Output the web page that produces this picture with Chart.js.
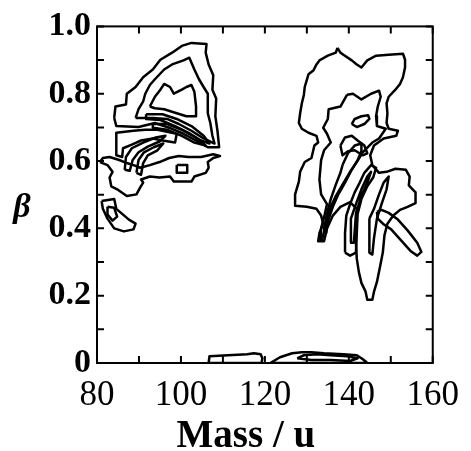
<!DOCTYPE html>
<html>
<head>
<meta charset="utf-8">
<script src="https://cdn.jsdelivr.net/npm/chart.js@4.4.1/dist/chart.umd.min.js"></script>
<style>
  html, body { margin: 0; padding: 0; background: #fff; }
  #wrap { width: 471px; height: 451px; }
</style>
</head>
<body>
<div id="wrap"><canvas id="contour" width="471" height="451"></canvas></div>
<script>
// Axis ticks
const massLabels = [80, 100, 120, 140, 160];
const massMinor = [90, 110, 130, 150];
const betaLabels = [0, 0.2, 0.4, 0.6, 0.8, 1.0];
const betaMinor = [0.1, 0.3, 0.5, 0.7, 0.9];

// Contour lines, [mass (u), beta]
// left group, upper lobe
const leftOuter = [[84.1,0.728],[84.4,0.762],[86.9,0.768],[87.1,0.800],[89.2,0.820],[91.0,0.849],[93.3,0.872],[95.1,0.901],[97.9,0.922],[100.2,0.942],[102.5,0.951],[106.1,0.948],[105.9,0.922],[106.6,0.887],[107.7,0.855],[107.5,0.812],[108.4,0.786],[108.2,0.733],[108.7,0.690],[109.1,0.641],[106.4,0.641],[103.6,0.661],[100.6,0.681],[97.2,0.699],[93.8,0.713],[89.9,0.701],[84.6,0.704]];
const leftSecond = [[89.2,0.728],[89.9,0.754],[91.0,0.777],[91.5,0.800],[92.6,0.826],[93.8,0.843],[96.0,0.872],[97.9,0.887],[100.6,0.899],[102.0,0.907],[103.2,0.872],[104.3,0.843],[105.4,0.820],[106.4,0.800],[106.4,0.742],[107.0,0.713],[107.5,0.675],[108.0,0.652],[105.4,0.667],[102.5,0.690],[99.5,0.710],[96.7,0.725],[93.3,0.728]];
const leftThird = [[92.6,0.762],[93.8,0.791],[95.1,0.812],[96.0,0.829],[97.4,0.820],[98.3,0.800],[100.2,0.812],[101.3,0.820],[102.5,0.826],[103.2,0.806],[103.6,0.762],[103.6,0.733],[101.3,0.733],[99.0,0.742],[96.0,0.754],[93.8,0.757]];
const leftBandA = [[91.7,0.739],[95.6,0.739],[99.0,0.725],[102.5,0.704],[105.4,0.675],[106.8,0.652],[104.8,0.661],[101.8,0.684],[98.6,0.704],[95.1,0.722],[91.7,0.725]];
const leftBandB = [[93.3,0.710],[96.7,0.710],[100.2,0.693],[103.2,0.672],[105.9,0.646],[103.2,0.655],[100.2,0.675],[96.7,0.693],[93.3,0.699]];
// left group, middle
const leftBox = [[84.6,0.684],[84.6,0.617],[86.0,0.612],[86.2,0.638],[88.3,0.649],[90.5,0.661],[93.3,0.667],[95.6,0.661],[98.6,0.655],[99.0,0.681],[96.7,0.687],[94.4,0.693],[91.5,0.693],[88.7,0.690]];
const leftStripA = [[86.6,0.574],[86.9,0.612],[88.3,0.638],[91.0,0.655],[94.0,0.670],[96.3,0.675],[94.9,0.658],[92.1,0.643],[89.9,0.626],[88.5,0.603],[87.8,0.571]];
const leftStripB = [[89.4,0.565],[89.9,0.603],[91.2,0.626],[93.5,0.641],[95.8,0.652],[94.4,0.632],[92.1,0.617],[91.0,0.594],[90.5,0.559]];
const leftLower = [[80.7,0.597],[82.5,0.588],[83.7,0.568],[83.0,0.551],[83.4,0.525],[84.8,0.516],[87.1,0.496],[89.4,0.501],[90.3,0.522],[91.0,0.536],[90.5,0.545],[92.6,0.554],[94.9,0.551],[97.4,0.554],[98.3,0.539],[102.5,0.539],[103.2,0.554],[105.9,0.565],[106.6,0.580],[106.4,0.597],[107.7,0.609],[109.3,0.615],[107.7,0.620],[104.8,0.612],[101.8,0.612],[99.5,0.615],[97.2,0.609],[94.9,0.597],[92.6,0.588],[90.3,0.580],[88.7,0.588],[87.1,0.594],[85.3,0.603],[83.0,0.612],[81.4,0.609]];
const leftSquare = [[99.0,0.588],[101.5,0.588],[101.5,0.565],[99.0,0.565]];
// left group, small blob near 0.45
const blobOuter = [[81.1,0.481],[84.1,0.487],[84.6,0.458],[86.0,0.443],[87.6,0.426],[89.2,0.414],[88.7,0.397],[86.4,0.391],[84.1,0.400],[82.5,0.429],[81.4,0.458]];
const blobInner = [[82.5,0.464],[84.1,0.461],[84.8,0.435],[83.7,0.423],[82.5,0.441]];

// right group
const rightOuter = [[137.3,0.936],[138.0,0.922],[138.7,0.916],[140.7,0.899],[141.9,0.887],[143.0,0.878],[144.4,0.899],[146.5,0.913],[149.5,0.916],[152.9,0.919],[153.4,0.901],[153.4,0.878],[152.9,0.849],[152.2,0.829],[151.1,0.812],[149.5,0.791],[149.0,0.771],[149.2,0.742],[149.0,0.713],[149.5,0.696],[151.7,0.690],[151.3,0.675],[148.3,0.667],[146.0,0.646],[145.1,0.617],[145.6,0.588],[147.2,0.565],[149.0,0.568],[151.1,0.577],[153.6,0.574],[154.5,0.554],[154.3,0.528],[155.9,0.507],[155.9,0.475],[154.0,0.464],[152.2,0.455],[150.6,0.438],[149.2,0.414],[148.5,0.380],[148.1,0.328],[147.4,0.284],[146.7,0.241],[146.0,0.212],[145.6,0.188],[144.4,0.188],[144.0,0.212],[143.0,0.238],[142.4,0.270],[141.9,0.310],[141.7,0.357],[141.7,0.409],[141.9,0.458],[140.3,0.478],[138.0,0.464],[136.2,0.438],[134.8,0.400],[134.1,0.362],[132.7,0.362],[133.0,0.386],[133.9,0.414],[133.4,0.438],[132.3,0.458],[130.0,0.464],[127.2,0.467],[127.2,0.501],[128.1,0.539],[128.4,0.568],[129.5,0.597],[131.1,0.609],[131.8,0.646],[132.7,0.655],[132.3,0.675],[130.4,0.684],[128.8,0.696],[128.1,0.713],[128.4,0.742],[128.8,0.771],[129.3,0.797],[129.5,0.820],[130.0,0.841],[130.4,0.858],[131.6,0.870],[132.3,0.887],[133.0,0.899],[135.0,0.913],[136.9,0.922]];
const rightSecond = [[139.6,0.797],[141.0,0.800],[143.0,0.783],[145.3,0.800],[147.2,0.809],[147.6,0.791],[146.9,0.762],[146.5,0.733],[146.7,0.704],[148.8,0.696],[147.2,0.667],[145.6,0.655],[143.3,0.626],[141.9,0.597],[140.3,0.568],[138.5,0.530],[136.9,0.496],[135.7,0.464],[134.8,0.429],[134.1,0.391],[133.6,0.365],[133.2,0.368],[133.4,0.400],[134.3,0.443],[134.8,0.472],[133.4,0.501],[133.0,0.545],[133.4,0.603],[134.1,0.632],[135.7,0.655],[134.8,0.681],[133.9,0.699],[135.0,0.725],[135.2,0.754],[138.0,0.762]];
const rightPeak = [[140.7,0.710],[141.4,0.725],[143.0,0.733],[144.6,0.736],[144.9,0.725],[143.7,0.710],[141.9,0.701]];
const rightBand = [[138.5,0.588],[139.8,0.623],[141.4,0.646],[143.0,0.652],[143.0,0.629],[142.1,0.603],[140.7,0.574],[139.1,0.536],[137.5,0.501],[136.2,0.464],[135.0,0.420],[134.6,0.386],[134.1,0.400],[134.8,0.443],[135.7,0.487],[136.9,0.530],[138.0,0.565]];
const rightKnot = [[138.0,0.646],[139.1,0.670],[140.7,0.675],[142.1,0.661],[143.7,0.646],[144.4,0.623],[143.3,0.617],[141.4,0.632],[139.8,0.629],[138.5,0.617]];
const rightStem = [[139.1,0.328],[139.1,0.386],[139.4,0.438],[140.3,0.472],[141.4,0.507],[142.6,0.536],[143.7,0.565],[145.3,0.588],[146.5,0.580],[145.8,0.551],[144.4,0.525],[143.0,0.487],[142.1,0.443],[141.9,0.386],[141.7,0.328],[140.3,0.319]];
const rightStemInner = [[140.3,0.357],[140.5,0.429],[141.7,0.472],[143.0,0.516],[144.4,0.554],[145.3,0.568],[144.4,0.536],[143.0,0.496],[141.7,0.443],[141.2,0.357]];
const rightTail = [[144.9,0.429],[146.0,0.458],[147.2,0.501],[148.3,0.536],[149.5,0.554],[149.0,0.516],[147.8,0.472],[146.7,0.429],[146.0,0.371],[145.6,0.322],[144.9,0.328],[144.9,0.386]];
const rightEllipse = [[146.7,0.449],[147.8,0.455],[149.5,0.446],[151.7,0.426],[154.0,0.394],[156.3,0.357],[157.3,0.330],[156.3,0.319],[154.7,0.333],[152.4,0.365],[150.1,0.397],[148.3,0.412],[146.9,0.429]];

// near beta = 0
const baseA = [[106.6,0],[106.8,0.020],[111.2,0.023],[115.8,0.026],[117.4,0.029],[119.0,0.026],[119.4,0.014],[119.2,0]];
const baseB = [[121.3,0],[123.6,0.017],[126.5,0.029],[128.8,0.032],[131.1,0.032],[134.1,0.029],[138.7,0.026],[141.9,0.023],[143.0,0.014],[144.2,0.003],[144.0,0]];
const baseC = [[127.7,0.014],[129.3,0.023],[132.3,0.026],[135.7,0.023],[139.6,0.020],[142.1,0.014],[140.3,0.006],[135.7,0.009],[131.1,0.009]];

const contours = [leftOuter, leftSecond, leftThird, leftBandA, leftBandB, leftBox, leftStripA, leftStripB,
    leftLower, leftSquare, blobOuter, blobInner, rightOuter, rightSecond, rightPeak, rightBand, rightKnot,
    rightStem, rightStemInner, rightTail, rightEllipse, baseA, baseB, baseC];

const serif = "'Liberation Serif', 'DejaVu Serif', serif";

// closed lines: repeat the first point at the end
const datasets = contours.map(c => ({
    data: c.concat([c[0]]).map(p => ({ x: p[0], y: p[1] })),
    showLine: true,
    borderColor: '#000',
    borderWidth: 2.5,
    borderJoinStyle: 'round',
    pointRadius: 0,
    fill: false,
    tension: 0
}));

// inward tick marks on all four sides, frame, beta symbol and the mass title
const framePlugin = {
    id: 'frame',
    afterDraw(chart) {
        const ctx = chart.ctx;
        const a = chart.chartArea;
        const xs = chart.scales.x;
        const ys = chart.scales.y;
        ctx.save();
        ctx.strokeStyle = '#000';
        ctx.lineWidth = 2;
        ctx.strokeRect(a.left, a.top, a.right - a.left, a.bottom - a.top);
        const len = 7;
        massLabels.concat(massMinor).forEach(v => {
            const px = xs.getPixelForValue(v);
            ctx.beginPath();
            ctx.moveTo(px, a.bottom); ctx.lineTo(px, a.bottom - len);
            ctx.moveTo(px, a.top); ctx.lineTo(px, a.top + len);
            ctx.stroke();
        });
        betaLabels.concat(betaMinor).forEach(v => {
            const py = ys.getPixelForValue(v);
            ctx.beginPath();
            ctx.moveTo(a.left, py); ctx.lineTo(a.left + len, py);
            ctx.moveTo(a.right, py); ctx.lineTo(a.right - len, py);
            ctx.stroke();
        });
        ctx.fillStyle = '#000';
        ctx.textAlign = 'center';
        ctx.textBaseline = 'middle';
        ctx.font = 'italic bold 34px ' + serif;
        ctx.fillText('β', 22, ys.getPixelForValue(0.46));
        ctx.textBaseline = 'alphabetic';
        ctx.font = 'bold 39px ' + serif;
        ctx.fillText('Mass / u', (a.left + a.right) / 2 - 19, 447);
        ctx.restore();
    }
};

new Chart(document.getElementById('contour'), {
    type: 'scatter',
    data: { datasets },
    options: {
        responsive: false,
        animation: false,
        layout: { padding: { top: 18, right: 25, left: 0, bottom: 0 } },
        plugins: { legend: { display: false }, tooltip: { enabled: false } },
        scales: {
            x: {
                type: 'linear',
                min: 80,
                max: 160,
                afterBuildTicks: s => { s.ticks = massLabels.map(v => ({ value: v })); },
                afterFit: s => { s.height = 88; },
                grid: { display: false, drawTicks: false },
                border: { display: false },
                ticks: {
                    autoSkip: false,
                    maxRotation: 0,
                    padding: 12,
                    color: '#000',
                    font: { family: serif, size: 35 },
                    callback: v => String(v)
                }
            },
            y: {
                type: 'linear',
                min: 0,
                max: 1,
                afterBuildTicks: s => { s.ticks = betaLabels.map(v => ({ value: v })); },
                afterFit: s => { s.width = 97; },
                grid: { display: false, drawTicks: false },
                border: { display: false },
                ticks: {
                    autoSkip: false,
                    padding: 6,
                    color: '#000',
                    font: { family: serif, size: 34, weight: 'bold' },
                    callback: v => v === 0 ? '0' : v.toFixed(1)
                }
            }
        }
    },
    plugins: [framePlugin]
});
</script>
</body>
</html>
